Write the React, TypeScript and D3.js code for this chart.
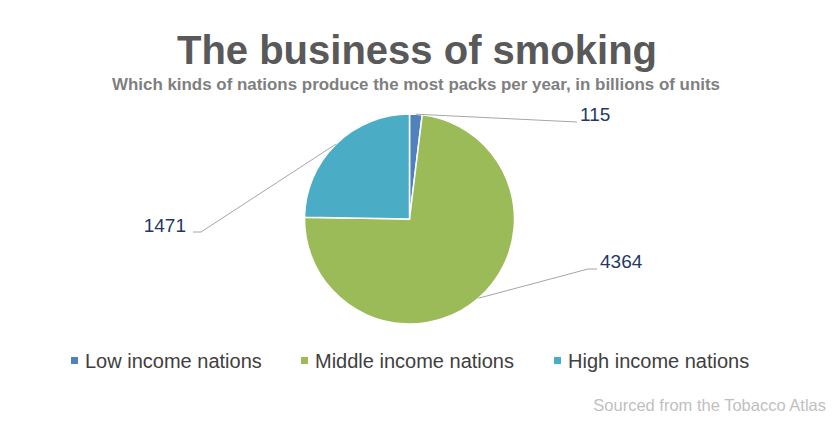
import React from 'react';
import * as d3 from 'd3';

const categories = ['Low income nations', 'Middle income nations', 'High income nations'];
const values = [115, 4364, 1471];
const colors = ['#4F81BD', '#9BBB59', '#4BACC6'];

// label placement (layout only): label anchor, elbow point, text anchor
const labelLayout = [
  { tx: 580, ty: 121, ex: 577, ey: 122, hx: 577, anchor: 'start' },
  { tx: 600, ty: 268, ex: 588, ey: 269, hx: 597, anchor: 'start' },
  { tx: 186, ty: 232, ex: 201, ey: 232, hx: 193, anchor: 'end' },
];

const legendX = [71, 301, 554];

const W = 835;
const H = 430;
const cx = 409.5;
const cy = 219;
const R = 105;
const font = '"Liberation Sans", Arial, Helvetica, sans-serif';

export default function App() {
  const pie = d3.pie<number>().sort(null).value(d => d)(values);
  const arc = d3.arc<d3.PieArcDatum<number>>().innerRadius(0).outerRadius(R);

  return (
    <svg width={W} height={H} style={{ display: 'block', position: 'absolute', left: 0, top: 0 }}>
      <rect width={W} height={H} fill="#fff" />
      <text x={417} y={64} textAnchor="middle" fontFamily={font} fontWeight="bold" fontSize={40} fill="#595959">
        The business of smoking
      </text>
      <text x={416} y={90} textAnchor="middle" fontFamily={font} fontWeight="bold" fontSize={16.5} fill="#7f7f7f"
        textLength={608} lengthAdjust="spacingAndGlyphs">
        Which kinds of nations produce the most packs per year, in billions of units
      </text>
      <g transform={`translate(${cx},${cy})`}>
        {pie.map((p, i) => (
          <path key={i} d={arc(p) || ''} fill={colors[i]} stroke="#fff" strokeWidth={1.5} />
        ))}
      </g>
      {pie.map((p, i) => {
        const mid = (p.startAngle + p.endAngle) / 2;
        const sx = cx + R * Math.sin(mid);
        const sy = cy - R * Math.cos(mid);
        const L = labelLayout[i];
        return (
          <g key={i}>
            <polyline
              points={`${sx},${sy} ${L.ex},${L.ey} ${L.hx},${L.ey}`}
              fill="none"
              stroke="#a6a6a6"
              strokeWidth={1}
            />
            <text x={L.tx} y={L.ty} textAnchor={L.anchor as any} fontFamily={font} fontSize={19} fill="#1f3864">
              {values[i]}
            </text>
          </g>
        );
      })}
      {categories.map((c, i) => (
        <g key={c}>
          <rect x={legendX[i]} y={357} width={7} height={7} fill={colors[i]} />
          <text x={legendX[i] + 14} y={368} fontFamily={font} fontSize={20} fill="#404040">
            {c}
          </text>
        </g>
      ))}
      <text x={826} y={411} textAnchor="end" fontFamily={font} fontSize={16.5} fill="#bfbfbf">
        Sourced from the Tobacco Atlas
      </text>
    </svg>
  );
}
